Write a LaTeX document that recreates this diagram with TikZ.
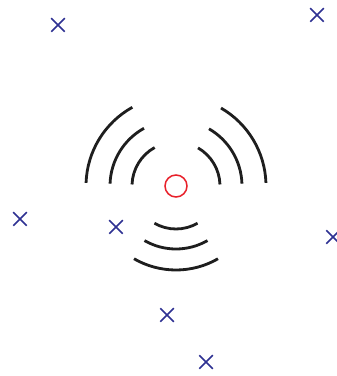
\documentclass[tikz,border=0pt]{standalone}
\usetikzlibrary{shapes.misc}
\definecolor{xblue}{HTML}{2E3192}
\definecolor{srcred}{HTML}{E8202A}
\definecolor{wavegray}{HTML}{1E1E1E}
\begin{document}
\begin{tikzpicture}[x=1pt,y=1pt,
  xmark/.style={draw=xblue, cross out, line width=1.5pt, minimum width=12pt, minimum height=12pt, inner sep=0pt},
  srcnode/.style={draw=srcred, circle, line width=1.5pt, minimum size=22pt, inner sep=0pt},
  wave/.style={draw=wavegray, line width=2.8pt}]
\useasboundingbox (0,0) rectangle (337,376);
\fill[white] (0,0) rectangle (337,376);
% source
\node[srcnode] (src) at (176,190) {};
% receivers
\node[xmark] (x1) at (58,351) {};
\node[xmark] (x2) at (317,361) {};
\node[xmark] (x3) at (20,157) {};
\node[xmark] (x4) at (116,149) {};
\node[xmark] (x5) at (333,139) {};
\node[xmark] (x6) at (167,61) {};
\node[xmark] (x7) at (206,14) {};
% left waves
\foreach \r in {44,66,90}{
  \draw[wave] ([shift={(178:\r)}]src.center) arc[start angle=178, end angle=119, radius=\r];
  \draw[wave] ([shift={(2:\r)}]src.center) arc[start angle=2, end angle=60, radius=\r];
}
% bottom waves
\foreach \r in {43,63,84}{
  \draw[wave] ([shift={(-120:\r)}]src.center) arc[start angle=-120, end angle=-60, radius=\r];
}
\end{tikzpicture}
\end{document}
